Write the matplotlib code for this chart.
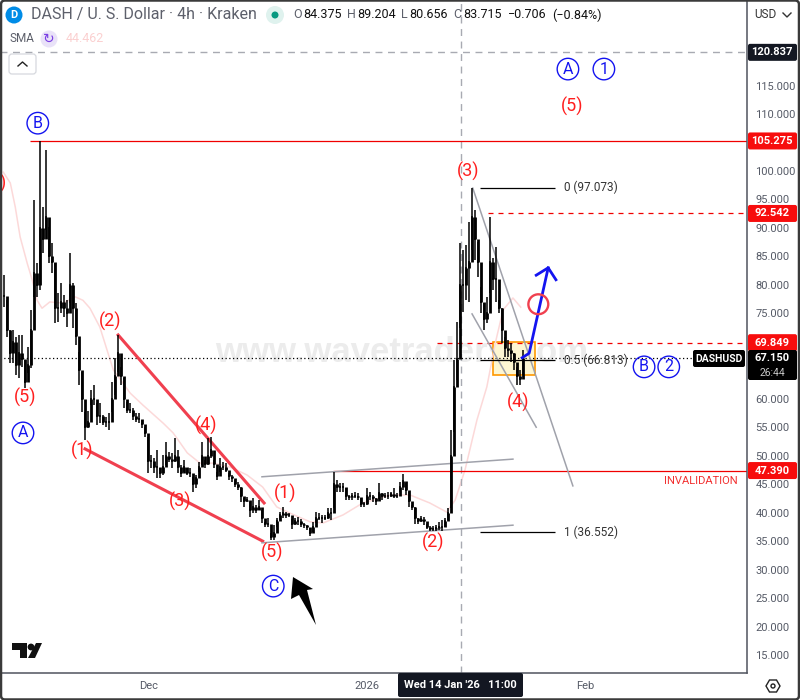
import matplotlib
matplotlib.use("Agg")
import matplotlib.pyplot as plt
import numpy as np
from matplotlib.patches import Circle, FancyBboxPatch, Polygon, Rectangle

plt.rcParams['font.family'] = ['Roboto', 'DejaVu Sans']

# price bars, one column per 10 hours or so
highs = [81.7, 77.3, 72.1, 72.1, 70.8, 71.2, 71.2, 66.8, 69.1, 75.6,
         94.9, 83.8, 105.3, 93.7, 103.7, 90.2, 87.4, 83.8, 78.6, 80.3,
         78.2, 77.3, 85.6, 80.3, 76.8, 68.2, 64.7, 57.7, 57.9, 61.5,
         62.4, 59.3, 59.3, 57.2, 56.8, 57.5, 63.0, 67.2, 71.2, 65.6,
         63.7, 59.4, 59.3, 58.4, 57.5, 57.5, 56.3, 55.0, 53.3, 50.1,
         49.6, 51.0, 47.8, 50.1, 52.4, 50.7, 50.5, 53.1, 51.0, 48.4,
         49.3, 47.8, 47.8, 46.3, 46.6, 48.9, 52.4, 49.3, 53.1, 53.3,
         49.3, 47.1, 49.6, 48.9, 48.7, 47.0, 46.6, 45.7, 45.4, 44.5,
         42.6, 42.8, 41.9, 42.6, 41.4, 42.2, 40.5, 38.4, 39.1, 36.4,
         37.8, 39.1, 40.1, 41.0, 40.1, 39.9, 38.9, 39.1, 39.2, 38.9,
         38.2, 37.8, 37.3, 38.4, 40.1, 39.9, 39.6, 39.6, 40.8, 40.8,
         47.1, 45.7, 45.2, 45.2, 44.3, 43.1, 43.5, 43.6, 43.5, 42.6,
         41.9, 44.3, 43.6, 43.1, 42.6, 45.2, 43.5, 43.5, 43.6, 43.6,
         44.3, 43.5, 45.4, 46.8, 45.2, 43.6, 41.4, 41.0, 39.1, 39.4,
         39.2, 38.0, 37.7, 37.7, 37.8, 38.4, 38.7, 39.1, 40.8, 54.5,
         66.8, 73.5, 87.4, 86.1, 87.0, 91.0, 97.07, 93.2, 87.5, 79.6,
         76.8, 77.9, 91.9, 84.7, 86.7, 77.3, 75.9, 70.8, 70.3, 69.8,
         68.0, 65.6, 65.1, 68.6]
lows = [76.1, 70.8, 66.3, 66.3, 64.2, 63.7, 65.6, 61.9, 64.5, 65.4,
        77.9, 77.9, 79.1, 85.6, 89.6, 83.8, 82.1, 73.3, 73.5, 75.1,
        74.4, 72.6, 76.8, 72.4, 69.4, 62.4, 57.7, 52.8, 54.9, 58.9,
        58.9, 55.4, 55.7, 55.4, 55.0, 54.5, 57.7, 60.7, 64.7, 62.4,
        58.4, 57.5, 57.5, 56.3, 55.9, 55.7, 54.9, 53.3, 47.0, 47.8,
        47.0, 46.1, 46.1, 46.6, 48.4, 48.9, 47.8, 48.9, 47.0, 46.3,
        47.1, 46.6, 46.3, 43.6, 44.3, 47.1, 48.4, 47.8, 48.4, 49.6,
        47.8, 45.7, 47.1, 47.5, 47.1, 45.7, 45.4, 44.5, 44.0, 41.9,
        41.0, 41.9, 39.2, 39.9, 39.9, 40.5, 38.2, 37.5, 37.5, 35.2,
        35.2, 37.5, 38.7, 39.1, 39.1, 39.2, 37.1, 37.8, 37.8, 37.5,
        37.3, 37.0, 35.9, 36.6, 38.2, 38.7, 38.2, 38.7, 38.9, 38.7,
        40.8, 43.6, 43.6, 43.6, 42.2, 42.2, 42.2, 42.6, 42.2, 41.0,
        41.0, 41.4, 42.2, 41.9, 41.4, 42.4, 42.2, 42.6, 42.4, 42.8,
        42.6, 42.6, 43.6, 44.0, 43.1, 41.0, 40.5, 38.0, 38.0, 38.4,
        37.8, 37.1, 36.8, 36.8, 36.8, 37.0, 36.8, 37.5, 38.7, 40.8,
        54.2, 63.3, 72.4, 75.2, 77.3, 77.0, 86.1, 84.4, 81.4, 75.1,
        72.1, 73.3, 78.6, 79.1, 77.0, 75.1, 69.8, 67.3, 67.3, 66.5,
        65.1, 62.4, 62.4, 64.2]
closes = [78, 72, 68, 70, 66, 68, 67, 63, 66, 72,
          82, 80, 90, 88, 92, 85, 84, 76, 76, 77,
          76, 75, 80, 76, 71, 65, 60, 55, 56, 60,
          60, 57, 57, 56, 56, 56, 60, 64, 68, 64,
          60, 58, 58, 57, 56.5, 56.5, 55.5, 54, 49, 49,
          48, 48, 47, 48, 50, 49.5, 49, 50, 48, 47,
          48, 47, 47, 45, 46, 48, 50, 48.5, 50, 51,
          48.5, 46.5, 48, 48, 47.5, 46.5, 46, 45, 44.5, 43,
          42, 42.3, 40.5, 41, 40.5, 41, 39, 38, 38, 35.8,
          36.5, 38.5, 39.5, 40, 39.5, 39.5, 38, 38.5, 38.5, 38,
          37.8, 37.5, 36.5, 37.5, 39, 39, 39, 39, 40, 40,
          45, 44.5, 44.5, 44.5, 43, 42.7, 43, 43, 42.7, 41.5,
          41.5, 43, 43, 42.5, 42, 43.5, 43, 43, 43, 43.2,
          43, 43, 44.5, 45.5, 44, 42, 41, 39, 38.5, 38.8,
          38.5, 37.5, 37.2, 37.2, 37.3, 37.5, 37.5, 38.5, 40, 50,
          62, 67, 80, 80, 83, 84, 92, 88, 84, 77,
          74, 75, 84, 81, 81, 76, 72, 69, 68.5, 68,
          66.5, 64, 63.5, 67.15]

# days counted from 1 Jan 2026
first_day = -51.49
day_step = 0.4255

sma_days = [-51.6, -50.6, -49.9, -49.2, -48.2, -47.5, -46.8, -46.1, -45.0, -43.1,
            -41.4, -40.3, -39.3, -37.9, -36.0, -33.6, -31.8, -28.9, -27.5, -25.5,
            -23.7, -21.8, -19.4, -17.0, -14.8, -12.8, -10.9, -8.1, -6.2, -3.4,
            -0.6, 3.3, 6.1, 8.9, 11.3, 12.5, 13.9, 15.6, 17.0, 18.2, 19.3, 20.7, 21.8]
sma_values = [99.8, 97.9, 93.7, 88.4, 83.8, 80.9, 77.3, 75.9, 77.0, 76.8,
              77.9, 77.3, 75.9, 72.6, 65.1, 61.0, 58.9, 55.7, 54.0, 50.5,
              48.7, 48.7, 48.0, 46.6, 44.5, 41.0, 39.9, 38.4, 38.2, 39.6,
              41.7, 43.1, 43.1, 41.7, 40.1, 42.2, 47.5, 56.3, 62.1, 69.8, 75.6, 77.7, 76.1]

# 65, 70 and 105 sit behind the price badges
price_ticks = [15, 20, 25, 30, 35, 40, 45, 50, 55, 60, 75, 80, 85, 90, 95, 100, 110, 115]
month_days = [-31, 0, 31]
month_labels = ['Dec', '2026', 'Feb']

last_price = 67.150
cross_price = 120.837
cross_day = 13.33
red_levels = [105.275, 92.542, 69.849, 47.390]
fib_levels = [97.073, 66.813, 36.552]
fib_labels = ['0 (97.073)', '0.5 (66.813)', '1 (36.552)']

wave_labels = ['(5)', '(1)', '(2)', '(3)', '(4)', '(5)', '(1)', '(2)', '(3)', '(4)', '(5)']
wave_days = [-48.5, -40.4, -36.5, -26.5, -22.8, -13.5, -11.6, 9.4, 14.3, 21.4, 29.1]
wave_prices = [60.3, 51.0, 73.5, 41.9, 55.4, 33.1, 43.3, 34.7, 100.0, 59.3, 111.4]

major_labels = ['B', 'A', 'C', 'A', '1', 'B', '2']
major_days = [-46.7, -48.8, -13.3, 28.5, 33.6, 39.3, 42.8]
major_prices = [108.4, 54.0, 27.1, 117.9, 117.9, 65.6, 65.6]

RED = '#f00000'
WAVE_RED = '#ff1f1f'
BLUE = '#1414f0'
GREY = '#a0a2ab'
TXT = '#555a66'

fig = plt.figure(figsize=(8, 7), dpi=100)
ax = fig.add_axes([0, 27 / 700, 747 / 800, 673 / 700])
ax.set_xlim(-52.06, 53.90)
ax.set_ylim(11.84, 130.03)

for s in ['top', 'left']:
    ax.spines[s].set_visible(False)
for s in ['right', 'bottom']:
    ax.spines[s].set_color('#50535e')
    ax.spines[s].set_linewidth(1.1)
ax.yaxis.tick_right()
ax.set_yticks(price_ticks)
ax.set_yticklabels(['%.3f' % p for p in price_ticks], fontsize=8, color=TXT)
ax.set_xticks(month_days)
ax.set_xticklabels(month_labels, fontsize=8, color=TXT)
ax.tick_params(axis='both', length=0)
ax.tick_params(axis='y', pad=6)
ax.tick_params(axis='x', pad=6)

# watermark under everything
ax.text(4.9, 68.2, 'www.wavetraders.com', fontsize=25, fontweight='bold', color='#ececec',
        ha='center', va='center', zorder=0, family=['Liberation Sans', 'DejaVu Sans'])

# drawings behind the price
ax.add_patch(Rectangle((17.9, 64.2), 5.9, 5.8, facecolor='#fdf6d2', edgecolor='#ff9800', lw=1.2, zorder=1))
ax.plot(sma_days, sma_values, color='#fcd9d9', lw=1.1, zorder=1)

ax.axvline(cross_day, color='#a8aab2', lw=1, dashes=(5, 4), zorder=1)
ax.axhline(cross_price, color='#a8aab2', lw=1, dashes=(5, 4), zorder=1)
ax.hlines(last_price, -52.06, 46.3, color='black', lw=0.9, linestyles=(0, (1, 2)), zorder=2)

ax.hlines(red_levels[0], -47.8, 53.9, color=RED, lw=0.9, zorder=2)
ax.hlines(red_levels[3], -4.8, 53.9, color=RED, lw=0.9, zorder=2)
ax.hlines(red_levels[1], 17.2, 53.9, color=RED, lw=0.9, linestyles=(0, (4, 4)), zorder=2)
ax.hlines(red_levels[2], 9.9, 53.9, color=RED, lw=0.9, linestyles=(0, (4, 4)), zorder=2)

# trend lines and channels
ax.plot([-35.3, -14.6], [71.2, 41.7], color='#f0404f', lw=2.2, zorder=2)
ax.plot([-40.0, -14.8], [51.2, 35.0], color='#f0404f', lw=2.2, zorder=2)
ax.plot([-14.9, 20.7], [46.3, 49.4], color=GREY, lw=1.1, zorder=2)
ax.plot([-14.9, 20.7], [34.7, 37.8], color=GREY, lw=1.1, zorder=2)
ax.plot([15.0, 29.2], [97.0, 44.7], color=GREY, lw=1.1, zorder=2)
ax.plot([14.9, 24.0], [74.9, 55.0], color=GREY, lw=1.1, zorder=2)

for lvl, lab in zip(fib_levels, fib_labels):
    ax.hlines(lvl, 16.0, 26.7, color='black', lw=0.9, zorder=2)
    ax.text(27.9, lvl, lab, fontsize=8.5, color='#333333', va='center', ha='left')

# the bars, with a heavier stroke from close to close
days = first_day + day_step * np.arange(len(highs))
ax.vlines(days, lows, highs, color='black', lw=1.1, zorder=3)
ax.hlines(closes, days - 0.16, days + 0.18, color='black', lw=1.1, zorder=3)
ax.vlines(days[1:], closes[:-1], closes[1:], color='black', lw=2.0, zorder=3)

# forecast path
ax.plot([22.0, 23.0, 25.7], [67.2, 68.0, 83.0], color=BLUE, lw=2, zorder=4)
ax.plot([24.0, 25.7, 26.8], [81.7, 83.0, 80.9], color=BLUE, lw=2, zorder=4)
ax.scatter([24.3], [76.6], s=205, facecolors='none', edgecolors='#f0404f', linewidths=1.7, zorder=5)

for lab, d, p in zip(wave_labels, wave_days, wave_prices):
    ax.text(d, p, lab, fontsize=13, color=WAVE_RED, ha='center', va='center', zorder=6)
ax.text(-52.06, 97.8, ')', fontsize=13, color=WAVE_RED, ha='left', va='center', zorder=6)

ax.scatter(major_days, major_prices, s=240, facecolors='none', edgecolors=BLUE, linewidths=1, zorder=6)
for lab, d, p in zip(major_labels, major_days, major_prices):
    ax.text(d, p, lab, fontsize=11.5, color=BLUE, ha='center', va='center', zorder=6)

ax.text(52.6, 45.6, 'INVALIDATION', fontsize=8, color='#f23030', ha='right', va='center', zorder=6)

# screen furniture in pixel space
ov = fig.add_axes([0, 0, 1, 1], facecolor='none')
ov.set_xlim(0, 800)
ov.set_ylim(700, 0)
ov.axis('off')


def py(price):
    return (130.03 - price) * 5.694


def badge(x0, x1, y0, y1, color):
    ov.add_patch(FancyBboxPatch((x0, y0), x1 - x0, y1 - y0, boxstyle='round,pad=0,rounding_size=2',
                                facecolor=color, edgecolor='none', zorder=10))


for lvl in red_levels:
    badge(748, 797, py(lvl) - 8.5, py(lvl) + 8.5, '#f70d0d')
    ov.text(772, py(lvl), '%.3f' % lvl, fontsize=8, fontweight='bold', color='white', ha='center', va='center', zorder=11)
badge(748, 797, py(cross_price) - 8.5, py(cross_price) + 8.5, '#131722')
ov.text(772, py(cross_price), '%.3f' % cross_price, fontsize=8, fontweight='bold', color='white', ha='center', va='center', zorder=11)
badge(748, 797, 350, 380, '#000000')
ov.text(772, 358, '%.3f' % last_price, fontsize=8, fontweight='bold', color='white', ha='center', va='center', zorder=11)
ov.text(772, 372.5, '26:44', fontsize=7.5, color='#c8c8c8', ha='center', va='center', zorder=11)
badge(693, 745, 350, 367, '#000000')
ov.text(719, 359, 'DASHUSD', fontsize=7.5, fontweight='bold', color='white', ha='center', va='center', zorder=11)

badge(398, 523, 673, 697, '#131722')
ov.text(460.5, 685, "Wed 14 Jan '26   11:00", fontsize=8, fontweight='bold', color='white', ha='center', va='center', zorder=11)

# big arrow pointing at the low
ov.add_patch(Polygon([(293, 577), (313, 589), (307, 590), (316, 625), (299, 595), (291, 599)], facecolor='black', edgecolor='none', zorder=8))

# logo
ov.add_patch(Polygon([(12, 643), (27, 643), (27, 658), (20, 658), (20, 650), (12, 650)], facecolor='#111111', edgecolor='none'))
ov.add_patch(Circle((31, 647), 3.4, facecolor='#111111', edgecolor='none'))
ov.add_patch(Polygon([(36, 643), (42, 643), (35, 658), (28, 658)], facecolor='#111111', edgecolor='none'))

# header
ov.add_patch(Circle((14, 15), 8.5, facecolor='#008ce7', edgecolor='none'))
ov.text(14, 15, 'D', fontsize=8, fontweight='bold', color='white', ha='center', va='center')
ov.text(31, 15, 'DASH / U. S. Dollar · 4h · Kraken', fontsize=11.5, color='#5d606b', ha='left', va='center')
ov.add_patch(Circle((275, 15), 9, facecolor='#dff2ee', edgecolor='none'))
ov.add_patch(Circle((275, 15), 3.5, facecolor='#089981', edgecolor='none'))
head_items = [(293, 'O', '#5d606b'), (303, '84.375', '#111111'), (347, 'H', '#5d606b'), (357, '89.204', '#111111'),
              (401, 'L', '#5d606b'), (409, '80.656', '#111111'), (453, 'C', '#5d606b'), (463, '83.715', '#111111'),
              (508, '−0.706', '#111111'), (552, '(−0.84%)', '#111111')]
for hx, hs, hc in head_items:
    ov.text(hx, 15, hs, fontsize=9, color=hc, ha='left', va='center')

ov.text(9, 39, 'SMA', fontsize=8.5, color='#5d606b', ha='left', va='center')
ov.add_patch(Circle((49, 39), 8.5, facecolor='#e9e2f8', edgecolor='none'))
ov.text(49, 39, '↻', fontsize=10, color='#7b3fe4', ha='center', va='center', family='DejaVu Sans')
ov.text(66, 39, '44.462', fontsize=9, color='#fbd0d0', ha='left', va='center')

ov.add_patch(FancyBboxPatch((9, 54), 27, 20, boxstyle='round,pad=0,rounding_size=3', facecolor='white', edgecolor='#d6d8de', lw=0.9))
ov.plot([18, 22.5, 27], [66, 62, 66], color='#222222', lw=1)

ov.text(754, 15, 'USD', fontsize=8.5, color='#333333', ha='left', va='center')
ov.plot([783, 787, 791], [13, 17, 13], color='#333333', lw=1)

ov.add_patch(Polygon([(766, 686), (769.5, 680), (776.5, 680), (780, 686), (776.5, 692), (769.5, 692)], facecolor='white', edgecolor='#222222', lw=1))
ov.add_patch(Circle((773, 686), 2, facecolor='white', edgecolor='#222222', lw=1))

# window frame
ov.add_patch(FancyBboxPatch((1, 0.5), 798, 699, boxstyle='round,pad=0,rounding_size=4', facecolor='none', edgecolor='#3a3a3a', lw=1.8, zorder=12))

fig.savefig('out.png', dpi=100)
